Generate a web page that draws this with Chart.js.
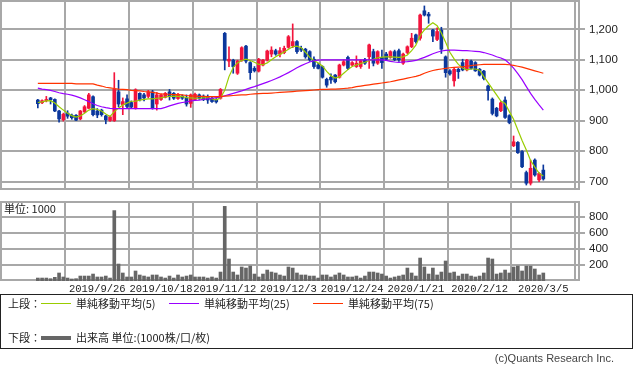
<!DOCTYPE html>
<html><head><meta charset="utf-8">
<script src="https://cdn.jsdelivr.net/npm/chart.js@4.4.1/dist/chart.umd.min.js"></script>
<style>
html,body{margin:0;padding:0;background:#fff;}
body{width:633px;height:373px;overflow:hidden;position:relative;font-family:"Noto Sans CJK JP","Liberation Sans",sans-serif;color:#222;}
canvas{position:absolute;left:0;}
#c1{top:0;}
#c2{top:195px;}
.t{position:absolute;white-space:nowrap;font-size:11px;line-height:12px;}
.ln{position:absolute;width:30px;height:0;}
#legend{position:absolute;left:0;top:294px;width:631px;height:53px;border:1px solid #222;}
</style></head><body>
<canvas id="c1" width="633" height="191"></canvas>
<canvas id="c2" width="633" height="105"></canvas>
<div class="t" style="left:4px;top:202px;">単位: 1000</div>
<div id="legend">
  <div class="t" style="left:7px;top:2px;">上段：</div>
  <div class="ln" style="left:40px;top:8px;border-top:1px solid #99cc00"></div>
  <div class="t" style="left:75px;top:2px;">単純移動平均(5)</div>
  <div class="ln" style="left:168px;top:8px;border-top:1px solid #9900ff"></div>
  <div class="t" style="left:203px;top:2px;">単純移動平均(25)</div>
  <div class="ln" style="left:312px;top:8px;border-top:1px solid #ff3300"></div>
  <div class="t" style="left:347px;top:2px;">単純移動平均(75)</div>
  <div class="t" style="left:7px;top:36px;">下段：</div>
  <div class="ln" style="left:40px;top:41px;border-top:4px solid #666"></div>
  <div class="t" style="left:75px;top:36px;">出来高 単位:(1000株/口/枚)</div>
</div>
<div class="t" style="right:19px;top:352px;font-family:'Liberation Sans',sans-serif;color:#444;">(c)Quants Research Inc.</div>
<script>
// ---- data ----
const monthDays = [
 ['2019/9', [4,5,6,9,10,11,12,13,17,18,19,20,24,25,26,27,30]],
 ['2019/10',[1,2,3,4,7,8,9,10,11,15,16,17,18,21,23,24,25,28,29,30,31]],
 ['2019/11',[1,5,6,7,8,11,12,13,14,15,18,19,20,21,22,25,26,27,28,29]],
 ['2019/12',[2,3,4,5,6,9,10,11,12,13,16,17,18,19,20,23,24,25,26,27,30]],
 ['2020/1',[6,7,8,9,10,14,15,16,17,20,21,22,23,24,27,28,29,30,31]],
 ['2020/2',[3,4,5,6,7,10,12,13,14,17,18,19,20,21,25,26,27,28]],
 ['2020/3',[2,3,4,5]]
];
const dates = monthDays.flatMap(([m, ds]) => ds.map(d => m + '/' + d));
const tickDates = ['2019/9/26','2019/10/18','2019/11/12','2019/12/3','2019/12/24','2020/1/21','2020/2/12','2020/3/5'];
const priceTicks = [700,800,900,1000,1100,1200];
const volumeTicks = [200,400,600,800];

const open = [968,959,966,975,970,932,903,925,918,918,906,929,941,979,932,935,916,901,900,995,953,972,960,942,990,985,980,995,955,970,977,995,990,973,981,974,957,970,985,981,977,974,970,974,1187,1096,1099,1056,1099,1145,1091,1072,1063,1083,1099,1119,1130,1119,1124,1141,1146,1160,1138,1135,1127,1102,1083,1078,1036,1043,1050,1043,1083,1108,1083,1078,1078,1100,1110,1127,1089,1108,1119,1108,1127,1130,1089,1124,1143,1182,1171,1261,1250,1198,1167,1198,1110,1064,1031,1069,1091,1067,1096,1091,1069,1063,1014,971,941,933,968,917,818,829,799,730,695,771,706,738];
const high = [970,969,980,977,972,934,925,933,922,920,934,950,990,982,940,938,918,916,1058,1033,975,985,965,1005,992,990,1000,1000,993,988,993,1003,993,990,985,985,988,991,988,985,985,977,973,1006,1190,1143,1102,1099,1143,1148,1094,1078,1105,1102,1132,1143,1135,1140,1145,1180,1218,1163,1145,1138,1130,1110,1089,1080,1040,1054,1052,1086,1100,1112,1094,1113,1100,1105,1152,1135,1130,1132,1125,1130,1132,1135,1122,1146,1187,1185,1250,1277,1256,1200,1205,1207,1113,1068,1072,1072,1102,1102,1099,1094,1072,1066,1017,975,944,963,979,920,850,832,802,735,771,775,730,755];
const low = [942,956,962,955,930,895,899,908,905,900,903,927,940,916,910,915,890,898,898,946,920,940,940,938,965,965,975,938,935,967,975,968,970,970,970,948,944,966,970,966,957,960,958,971,1067,1078,1056,1052,1095,1090,1036,1060,1060,1080,1096,1110,1115,1110,1120,1138,1140,1121,1127,1105,1095,1072,1070,1040,1010,1023,1024,1040,1080,1068,1080,1075,1072,1085,1072,1080,1085,1072,1098,1105,1097,1095,1085,1120,1140,1155,1165,1244,1220,1160,1163,1121,1043,1050,1014,1039,1064,1064,1069,1062,1047,1034,968,919,913,930,908,890,815,793,746,689,689,718,700,705];
const close = [956,966,970,969,932,906,921,915,910,902,932,946,985,920,919,920,903,913,1003,955,963,947,945,1002,970,975,995,942,985,985,990,979,974,987,974,955,985,987,974,970,968,963,962,1003,1099,1102,1078,1096,1140,1096,1058,1064,1102,1099,1129,1132,1119,1130,1138,1176,1160,1127,1132,1110,1100,1078,1072,1043,1017,1034,1028,1083,1094,1072,1091,1089,1097,1089,1149,1089,1127,1091,1102,1127,1100,1100,1119,1143,1171,1160,1247,1247,1244,1178,1193,1135,1058,1054,1069,1061,1067,1099,1072,1064,1050,1039,999,924,916,959,911,894,831,795,749,695,744,722,727,709];
const volume = [37,37,37,29,46,100,50,37,25,29,62,62,62,87,50,50,62,37,880,212,100,50,50,125,75,62,50,75,75,50,37,62,37,75,50,62,75,50,50,50,37,50,37,112,933,275,112,75,175,162,187,87,50,87,137,112,100,75,62,175,162,100,75,75,62,62,37,75,75,50,75,100,75,50,50,62,37,62,112,112,100,87,62,37,50,62,75,162,100,62,287,175,87,162,75,112,250,100,112,62,87,87,62,50,62,100,287,275,87,100,137,100,175,187,125,187,187,150,75,100];
const ma5 = [960,962,965,966,958,946,935,925,917,912,916,925,935,940,937,932,922,914,930,942,952,958,964,964,968,970,972,972,974,975,978,980,981,980,979,976,975,974,974,975,975,972,969,975,1000,1045,1075,1090,1098,1102,1098,1092,1085,1084,1090,1100,1110,1118,1126,1135,1143,1145,1140,1125,1108,1098,1090,1080,1062,1048,1040,1044,1056,1068,1078,1083,1088,1092,1098,1102,1107,1109,1110,1110,1109,1108,1110,1116,1130,1148,1180,1198,1212,1222,1212,1188,1158,1125,1103,1085,1073,1067,1070,1070,1066,1045,1025,1005,985,965,957,930,905,870,835,804,770,748,728,719];
const ma25 = [1007,1004,1002,1000,996,992,989,987,984,980,975,969,963,956,950,946,943,941,940,940,940,940,940,940,940,940,940,940,940,940,944,949,953,957,960,962,965,967,968,970,972,974,976,978,982,986,990,994,998,1003,1008,1012,1017,1022,1027,1032,1038,1044,1051,1058,1066,1074,1081,1087,1093,1097,1099,1100,1100,1100,1100,1100,1100,1100,1100,1100,1100,1100,1100,1100,1100,1100,1098,1095,1093,1092,1093,1094,1096,1098,1103,1108,1114,1120,1125,1129,1131,1132,1132,1131,1130,1130,1129,1128,1127,1124,1120,1116,1110,1106,1100,1088,1073,1055,1035,1012,990,970,952,935];
const ma75 = [1023,1023,1023,1023,1023,1023,1023,1023,1023,1021,1021,1021,1021,1021,1017,1014,1010,1008,1006,1004,1003,1002,1000,999,998,996,995,993,991,988,987,987,986,986,985,983,982,981,980,980,979,979,979,979,981,982,983,984,985,985,987,988,989,990,990,991,992,993,994,995,996,997,998,999,1000,1001,1002,1003,1003,1004,1004,1005,1006,1007,1009,1012,1014,1016,1018,1020,1022,1024,1026,1028,1031,1034,1037,1040,1043,1046,1050,1056,1061,1065,1068,1070,1072,1074,1075,1076,1077,1079,1081,1083,1084,1085,1085,1085,1085,1085,1085,1084,1082,1079,1076,1072,1068,1064,1060,1056];

// ---- styling ----
const GRID = '#a8a8a8';
const GRID_W = 2;
const UP = '#f3143c', DOWN = '#0b379c';
const X_MIN = -8.907, X_MAX = 127.40;
const tickIdx = tickDates.map(d => dates.indexOf(d));
const idx = dates.map((_, i) => i);
const candleColor = idx.map(i => close[i] >= open[i] ? UP : DOWN);

const frame = { id: 'frame', beforeDatasetsDraw(c) {
  const a = c.chartArea, ctx = c.ctx; ctx.save();
  ctx.strokeStyle = GRID; ctx.lineWidth = GRID_W;
  ctx.strokeRect(Math.round(a.left) + 1, Math.round(a.top) + 1, Math.round(a.right - a.left) - 1, Math.round(a.bottom - a.top) - 2);
  ctx.restore(); } };

function xScale(showLabels) {
  return {
    type: 'linear', min: X_MIN, max: X_MAX, offset: false,
    afterBuildTicks: s => { s.ticks = tickIdx.map(v => ({ value: v })); },
    ticks: { display: showLabels, autoSkip: false, maxRotation: 0, minRotation: 0,
      callback: v => dates[v], font: { family: 'Liberation Mono', size: 10.5 }, color: '#222', padding: 2 },
    grid: { color: GRID, lineWidth: GRID_W, drawTicks: false },
    border: { display: false },
    afterFit: s => { s.height = showLabels ? 19 : 0; s.paddingLeft = 0; s.paddingRight = 0; }
  };
}
function yScale(min, max, ticks, fmt) {
  return {
    position: 'right', min, max,
    afterBuildTicks: s => { s.ticks = ticks.map(v => ({ value: v })); },
    ticks: { callback: fmt, font: { family: 'Liberation Sans', size: 11.5 }, color: '#222', padding: 4 },
    grid: { color: GRID, lineWidth: GRID_W, tickLength: 6, drawTicks: true },
    border: { display: false },
    afterFit: s => { s.width = 54; s.paddingTop = 0; s.paddingBottom = 0; }
  };
}
const common = { responsive: false, animation: false, events: [],
  plugins: { legend: { display: false }, tooltip: { enabled: false } } };

new Chart(document.getElementById('c1'), {
  type: 'bar',
  data: { datasets: [
    { type: 'line', data: idx.map(i => ({ x: i, y: ma75[i] })), borderColor: '#ff3300', borderWidth: 1.2, pointRadius: 0, order: 0 },
    { type: 'line', data: idx.map(i => ({ x: i, y: ma25[i] })), borderColor: '#9900ff', borderWidth: 1.2, pointRadius: 0, order: 0 },
    { type: 'line', data: idx.map(i => ({ x: i, y: ma5[i] })), borderColor: '#99cc00', borderWidth: 1.2, pointRadius: 0, order: 0 },
    { data: idx.map(i => ({ x: i, y: [open[i], close[i]] })), backgroundColor: candleColor, barThickness: 3, grouped: false, order: 1 },
    { data: idx.map(i => ({ x: i, y: [low[i], high[i]] })), backgroundColor: candleColor, barThickness: 1, grouped: false, order: 2 }
  ] },
  options: { ...common, layout: { padding: { top: 0, bottom: 1, left: 0, right: 0 } },
    scales: { x: xScale(false), y: yScale(672.7, 1296.5, priceTicks, v => v.toLocaleString('en-US')) } },
  plugins: [frame]
});

new Chart(document.getElementById('c2'), {
  type: 'bar',
  data: { datasets: [
    { data: idx.map(i => ({ x: i, y: volume[i] })), backgroundColor: '#666666', barThickness: 3, grouped: false }
  ] },
  options: { ...common, layout: { padding: { top: 6, bottom: 0, left: 0, right: 0 } },
    scales: { x: xScale(true), y: yScale(0, 1000, volumeTicks, v => String(v)) } },
  plugins: [frame]
});
</script>
</body></html>
